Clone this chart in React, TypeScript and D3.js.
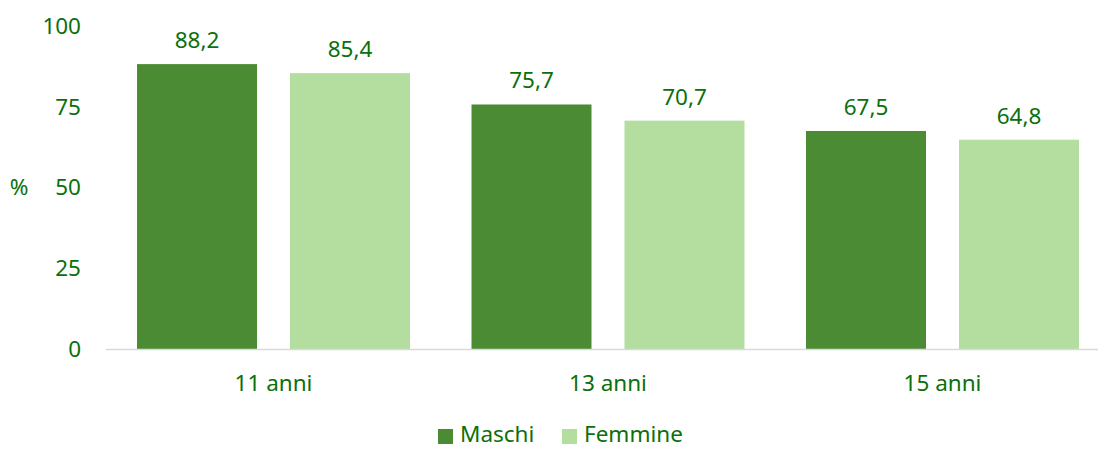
import * as d3 from "d3";
import React from "react";

// dati
const categories = ["11 anni", "13 anni", "15 anni"];
const seriesNames = ["Maschi", "Femmine"];
const maschi = [88.2, 75.7, 67.5];
const femmine = [85.4, 70.7, 64.8];
const yTicks = [0, 25, 50, 75, 100];

const W = 1098;
const H = 450;
const colors = ["#4b8b34", "#b3dea0"];
const textColor = "#0b700b";
const font = "'Noto Sans', 'Open Sans', sans-serif";
const fs = 22.5;

const App = () => {
  const values = [maschi, femmine];

  const x0 = d3.scaleBand<string>()
    .domain(categories)
    .range([106.25, 1109.75])
    .paddingInner(0.1839)
    .paddingOuter(0.092);

  const x1 = d3.scaleBand<string>()
    .domain(seriesNames)
    .range([0, x0.bandwidth()])
    .paddingInner(33 / 153);

  const y = d3.scaleLinear().domain([0, 100]).range([349, 26]);

  const fmt = (v: number) => v.toFixed(1).replace(".", ",");

  return (
    <svg width={W} height={H} style={{ position: "absolute", left: 0, top: 0 }} fontFamily={font}>
      {/* etichette asse y */}
      {yTicks.map(t => (
        <text key={t} x={81} y={y(t)} dy="0.35em" textAnchor="end" fontSize={fs} fill={textColor}>{t}</text>
      ))}
      <text x={19} y={y(50)} dy="0.35em" textAnchor="middle" fontSize={fs} fill={textColor}>%</text>

      {/* barre */}
      {categories.map((c, i) => (
        <g key={c} transform={`translate(${x0(c)},0)`}>
          {seriesNames.map((s, j) => (
            <g key={s}>
              <rect
                x={x1(s)}
                y={y(values[j][i])}
                width={x1.bandwidth()}
                height={y(0) - y(values[j][i])}
                fill={colors[j]}
              />
              <text
                x={(x1(s) ?? 0) + x1.bandwidth() / 2}
                y={y(values[j][i]) - 16}
                textAnchor="middle"
                fontSize={fs}
                fill={textColor}
              >{fmt(values[j][i])}</text>
            </g>
          ))}
        </g>
      ))}

      {/* asse x */}
      <line x1={106} x2={W} y1={349.5} y2={349.5} stroke="#d9d9d9" strokeWidth={1.5} />
      {categories.map(c => (
        <text key={c} x={(x0(c) ?? 0) + x0.bandwidth() / 2} y={391} textAnchor="middle" fontSize={fs} fill={textColor}>{c}</text>
      ))}

      {/* legenda */}
      {seriesNames.map((s, j) => {
        const lx = [438, 562][j];
        return (
          <g key={s}>
            <rect x={lx} y={429} width={15} height={15} fill={colors[j]} />
            <text x={lx + 22} y={442} fontSize={fs} fill={textColor}>{s}</text>
          </g>
        );
      })}
    </svg>
  );
};

export default App;
